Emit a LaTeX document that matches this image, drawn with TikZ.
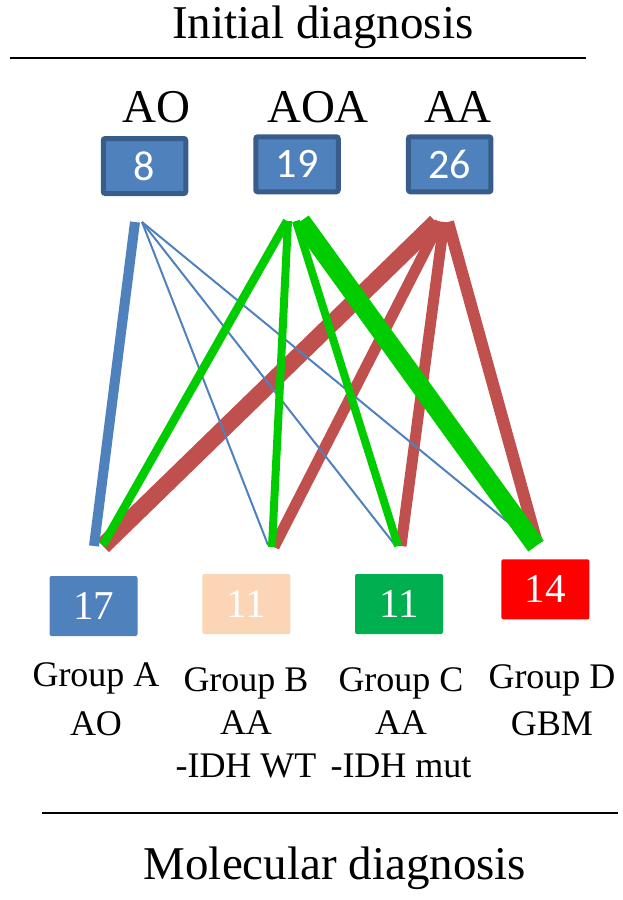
\documentclass[tikz,border=0pt]{standalone}
\usepackage{fontspec}
\setmainfont{Liberation Serif}
\newfontfamily\numfont{Carlito}
\definecolor{boxblue}{HTML}{4F81BD}
\definecolor{boxedge}{HTML}{385D8A}
\definecolor{peach}{HTML}{FBD5B5}
\definecolor{grpgreen}{HTML}{00B050}
\definecolor{linegreen}{HTML}{00CC00}
\definecolor{linered}{HTML}{C0504D}

\begin{document}
\begin{tikzpicture}[x=1pt, y=-1pt,
	title/.style = {inner sep=0, anchor=base, font=\fontsize{47}{56}\selectfont},
	topbox/.style = {draw=boxedge, line width=5pt, fill=boxblue, rounded corners=2pt,
		minimum width=82.5pt, minimum height=55pt, inner sep=0, text=white,
		font=\numfont\fontsize{42}{50}\selectfont},
	grpbox/.style = {rounded corners=2pt, minimum width=88pt, minimum height=60pt,
		inner sep=0, text=white, font=\fontsize{41}{48}\selectfont},
	grplabel/.style = {inner sep=0, anchor=north, align=center,
		font=\fontsize{36}{43}\selectfont},
	rule/.style = {line width=2.2pt},
	blueline/.style = {draw=boxblue},
	greenline/.style = {draw=linegreen},
	redline/.style = {draw=linered}]
\useasboundingbox (0,0) rectangle (623,900);

\node[title] (initial) at (322.8,38.5) {Initial diagnosis};
\draw[rule] (10,58) -- (586,58);

\node[title] (ao) at (156.7,122) {AO};
\node[title] (aoa) at (318,122) {AOA};
\node[title] (aa) at (458,122) {AA};

\node[topbox] (box ao) at (144.5,166) {8};
\node[topbox] (box aoa) at (297,164.3) {19};
\node[topbox] (box aa) at (449.7,164.3) {26};

\coordinate (ao top) at (138,222);
\coordinate (aoa top) at (292,221);
\coordinate (aa top) at (442,222);
\coordinate (end a) at (103,546);
\coordinate (end b) at (272,547);
\coordinate (end c) at (399,546);
\coordinate (end d) at (536,546);

\draw[redline, line width=17pt] ([xshift=-6pt]aa top) -- (end a);
\draw[redline, line width=11pt] ([xshift=-2pt]aa top) -- ([xshift=2pt]end b);
\draw[redline, line width=11pt] ([xshift=2pt]aa top) -- ([xshift=2pt]end c);
\draw[redline, line width=12pt] ([xshift=6pt]aa top) -- ([xshift=1pt,yshift=3pt]end d);

\draw[blueline, line width=10pt] ([xshift=-3pt]ao top) -- ([xshift=-9pt]end a);
\draw[blueline, line width=2pt] ([xshift=4pt]ao top) -- ([xshift=-4pt,yshift=2pt]end b);
\draw[blueline, line width=2pt] ([xshift=4pt]ao top) -- ([xshift=-4pt,yshift=1pt]end c);
\draw[blueline, line width=2pt] ([xshift=4pt]ao top) -- ([xshift=-16pt,yshift=14pt]end d);

\draw[greenline, line width=8.5pt] ([xshift=-5pt]aoa top) -- ([yshift=1pt]end a);
\draw[greenline, line width=8pt] ([xshift=-4pt]aoa top) -- (end b);
\draw[greenline, line width=8pt] ([xshift=4pt]aoa top) -- ([xshift=-1pt]end c);
\draw[greenline, line width=19pt] ([xshift=9pt]aoa top) -- (end d);

\node[grpbox, fill=boxblue] (group a) at (93.5,606) {17};
\node[grpbox, fill=peach] (group b) at (246.4,604) {11};
\node[grpbox, fill=grpgreen] (group c) at (399,604) {11};
\node[grpbox, fill=red] (group d) at (545.4,589.3) {14};

\node[grplabel] (label a) at (96,662.6) {Group A\\[6pt]AO};
\node[grplabel] (label b) at (246,667.6) {Group B\\AA\\-IDH WT};
\node[grplabel] (label c) at (401,667.6) {Group C\\AA\\-IDH mut};
\node[grplabel] (label d) at (552,664.6) {Group D\\[4pt]GBM};

\draw[rule] (42,813) -- (618,813);
\node[title] (molecular) at (334.9,879) {Molecular diagnosis};
\end{tikzpicture}
\end{document}
